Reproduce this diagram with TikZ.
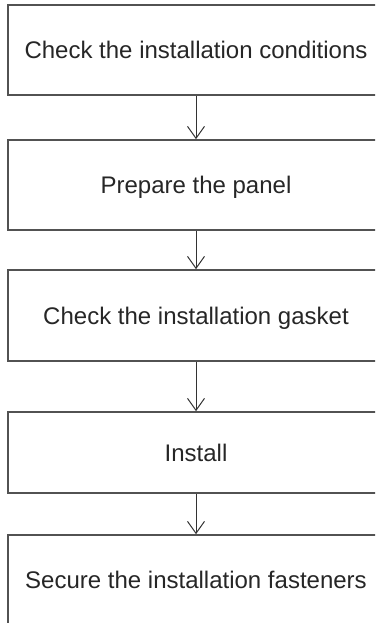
\documentclass[tikz,border=0pt]{standalone}
\usepackage{fontspec}
\setmainfont{Liberation Sans}
\usetikzlibrary{arrows.meta}
\begin{document}
\begin{tikzpicture}[x=1pt,y=1pt,
  stepbox/.style={draw=black!68, line width=1.6pt, rectangle, minimum width=376pt,
    text=black!85, font=\fontsize{24}{28}\selectfont, text height=17.2pt, text depth=0pt, inner sep=0pt},
  flow/.style={draw=black!80, line width=1pt, -{Straight Barb[length=12pt,width=17pt,line width=1pt]}}]
\useasboundingbox (0,0) rectangle (375,-623);
\clip (0,0) rectangle (375,-623);
\node[stepbox, minimum height=90pt] (s1) at (196,-50) {Check the installation conditions};
\node[stepbox, minimum height=90pt] (s2) at (196,-185) {Prepare the panel};
\node[stepbox, minimum height=91pt] (s3) at (196,-315.5) {Check the installation gasket};
\node[stepbox, minimum height=81pt] (s4) at (196,-452.5) {Install};
\node[stepbox, minimum height=90pt] (s5) at (196,-580) {Secure the installation fasteners};
\draw[flow] (s1.south) -- (s2.north);
\draw[flow] (s2.south) -- (s3.north);
\draw[flow] (s3.south) -- (s4.north);
\draw[flow] (s4.south) -- (s5.north);
\end{tikzpicture}
\end{document}
